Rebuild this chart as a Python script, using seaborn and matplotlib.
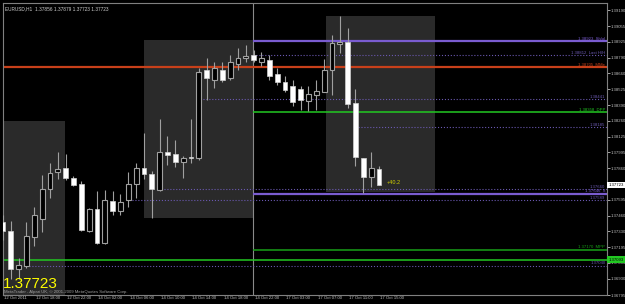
import numpy as np
import pandas as pd
import matplotlib
matplotlib.use("Agg")
import matplotlib.pyplot as plt
import matplotlib.transforms as mtransforms
import seaborn as sns

# ---------------- data ----------------
opens = [1.37408, 1.37333, 1.37013, 1.37039, 1.37282, 1.37433, 1.37685, 1.37828, 1.37862, 1.37778,
         1.37728, 1.37333, 1.37517, 1.37232, 1.37585, 1.37501, 1.37593, 1.37728, 1.37862, 1.37812,
         1.37677, 1.37996, 1.37979, 1.37912, 1.37954, 1.37946, 1.38686, 1.38602, 1.38686, 1.38619,
         1.38736, 1.38787, 1.38812, 1.38753, 1.38770, 1.38652, 1.38585, 1.38551, 1.38526, 1.38425,
         1.38476, 1.38501, 1.38686, 1.38904, 1.38921, 1.38408, 1.37946, 1.37786, 1.37856]
highs = [1.37467, 1.37417, 1.37106, 1.37408, 1.37534, 1.37803, 1.37904, 1.37996, 1.37979, 1.37795,
         1.37753, 1.37526, 1.37668, 1.37677, 1.37668, 1.37643, 1.37828, 1.37904, 1.38156, 1.37837,
         1.38273, 1.38131, 1.38097, 1.37962, 1.38273, 1.38703, 1.38787, 1.38753, 1.38753, 1.38812,
         1.38871, 1.38896, 1.38854, 1.38837, 1.38812, 1.38703, 1.38636, 1.38602, 1.38551, 1.38551,
         1.38602, 1.38778, 1.38980, 1.39140, 1.39039, 1.38526, 1.37946, 1.37996, 1.37879]
lows = [1.37257, 1.36929, 1.36929, 1.37022, 1.37206, 1.37324, 1.37610, 1.37769, 1.37761, 1.37711,
        1.37333, 1.37324, 1.37225, 1.37225, 1.37467, 1.37467, 1.37534, 1.37610, 1.37769, 1.37442,
        1.37670, 1.37887, 1.37870, 1.37778, 1.37904, 1.37929, 1.38434, 1.38535, 1.38585, 1.38602,
        1.38686, 1.38753, 1.38753, 1.38720, 1.38602, 1.38560, 1.38501, 1.38384, 1.38350, 1.38341,
        1.38350, 1.38501, 1.38476, 1.38829, 1.38366, 1.37879, 1.37652, 1.37703, 1.37723]
closes = [1.37333, 1.37013, 1.37047, 1.37291, 1.37467, 1.37685, 1.37820, 1.37853, 1.37778, 1.37719,
          1.37342, 1.37517, 1.37232, 1.37593, 1.37501, 1.37576, 1.37728, 1.37862, 1.37812, 1.37685,
          1.37996, 1.37971, 1.37912, 1.37946, 1.37950, 1.38669, 1.38619, 1.38703, 1.38602, 1.38753,
          1.38787, 1.38804, 1.38770, 1.38787, 1.38635, 1.38585, 1.38518, 1.38417, 1.38434, 1.38484,
          1.38509, 1.38686, 1.38913, 1.38921, 1.38400, 1.37954, 1.37786, 1.37862, 1.37723]

time_labels = ["12 Oct 2011", "12 Oct 18:00", "12 Oct 22:00", "14 Oct 02:00", "14 Oct 06:00",
               "14 Oct 10:00", "14 Oct 14:00", "14 Oct 18:00", "14 Oct 22:00", "17 Oct 03:00",
               "17 Oct 07:00", "17 Oct 11:00", "17 Oct 15:00"]
price_ticks = [1.39190, 1.39055, 1.38925, 1.38790, 1.38660, 1.38525, 1.38390, 1.38260, 1.38125,
               1.37995, 1.37860, 1.37595, 1.37460, 1.37330, 1.37195, 1.37065, 1.36930, 1.36795]

# level lines: value, start bar, colour, style, label
level_values = [1.38929, 1.38812, 1.38711, 1.38442, 1.38333, 1.38207, 1.37686, 1.37648, 1.37593,
                1.37177, 1.37093, 1.37039]
level_start = [31.9, 31.9, 0.0, 25.2, 31.9, 45.3, 20.2, 31.9, 16.1, 31.9, 0.0, 3.0]
level_labels = ["1.38923  Sh/ol", "1.38812  Last H/H", "1.38705  MMe", "1.38441", "1.38358  DPP",
                "1.38185", "1.37660", "1.37646  S", "1.37589", "1.37170  MPP", "", "1.37040"]
level_colors = ["#7a5cd0", "#6a58b0", "#c8401a", "#6a58b0", "#22c822", "#6a58b0", "#6a58b0",
                "#7a5cd0", "#6a58b0", "#18a018", "#22c822", "#6a58b0"]
level_styles = ["-", ":", "-", ":", "-", ":", ":", "-", ":", "-", "-", ":"]
level_widths = [1.6, 0.8, 1.6, 0.8, 1.1, 0.8, 0.8, 1.6, 0.8, 1.1, 1.1, 0.8]

# session boxes: start bar, end bar, low, high
box_x0 = [0.0, 18.0, 41.2]
box_x1 = [7.9, 31.9, 55.2]
box_lo = [1.36795, 1.37442, 1.37661]
box_hi = [1.38257, 1.38938, 1.39140]

df = pd.DataFrame({"open": opens, "high": highs, "low": lows, "close": closes})
df["bar"] = np.arange(len(df))

# ---------------- style ----------------
sns.set_theme(style="dark", rc={
    "figure.facecolor": "black", "axes.facecolor": "black",
    "axes.edgecolor": "#808080", "text.color": "#c0c0c0",
    "xtick.color": "#c0c0c0", "ytick.color": "#c0c0c0",
})
plt.rcParams["font.family"] = ["Liberation Sans", "DejaVu Sans"]

W, H = 625, 304
fig = plt.figure(figsize=(W / 100, H / 100), dpi=100)
ax = fig.add_axes([3 / W, 9 / H, 604 / W, 292 / H])
ax.set_facecolor("black")

ymin, ymax = 1.36795, 1.39249
x0, x1 = 0.172, 77.11
ax.set_xlim(x0, x1)
ax.set_ylim(ymin, ymax)

SMALL = 3.1

# session boxes
for a, b, lo, hi in zip(box_x0, box_x1, box_lo, box_hi):
    ax.fill_between([max(a, x0), b], lo, hi, color="#2a2a2a", lw=0, zorder=0)

# period separator
ax.axvline(31.9, color="#8a8a8a", lw=0.8, zorder=1)

# level lines with labels
for v, s, lab, c, ls, lw in zip(level_values, level_start, level_labels, level_colors,
                                level_styles, level_widths):
    ax.hlines(v, max(s, x0), x1, colors=c, linestyles=ls, lw=lw, zorder=2)
    if lab:
        ax.text(76.9, v + 0.00004, lab, color=c, fontsize=SMALL, ha="right", va="bottom", zorder=3)

# candles
bull = df["close"] >= df["open"]
ax.vlines(df["bar"], df["low"], df["high"], colors="#a0a0a0", lw=0.8, zorder=4)
body_lo = np.minimum(df["open"], df["close"])
body_h = np.maximum(np.abs(df["close"] - df["open"]), 0.00002)
ax.bar(df["bar"][~bull], body_h[~bull], bottom=body_lo[~bull], width=0.62,
       color="white", edgecolor="#d0d0d0", lw=0.5, zorder=5)
ax.bar(df["bar"][bull], body_h[bull], bottom=body_lo[bull], width=0.62,
       color="black", edgecolor="#a0a0a0", lw=0.8, zorder=5)

# axes / ticks
ax.yaxis.tick_right()
ax.set_yticks(price_ticks)
ax.set_yticklabels([f"{p:.5f}" for p in price_ticks], fontsize=SMALL)
ax.tick_params(axis="y", length=2.0, width=0.6, color="#c0c0c0", pad=0.4)
ax.set_xticks(np.arange(0, 49, 4))
ax.set_xticklabels(time_labels, fontsize=SMALL, ha="left", va="center")
ax.tick_params(axis="x", length=3.5, width=0.6, color="#c0c0c0", pad=-1.5)
offset = mtransforms.ScaledTranslation(1.2 / 100, 0, fig.dpi_scale_trans)
for lab in ax.get_xticklabels():
    lab.set_transform(lab.get_transform() + offset)
for sp in ax.spines.values():
    sp.set_color("#808080")
    sp.set_linewidth(0.8)
ax.grid(False)

# current price markers on axis
ax.text(1.002, 1.37723, "1.37723", transform=ax.get_yaxis_transform(),
        fontsize=SMALL, color="black", va="center", ha="left",
        bbox=dict(boxstyle="square,pad=0.25", fc="white", ec="none"))
ax.text(1.002, 1.37093, "1.37093", transform=ax.get_yaxis_transform(),
        fontsize=SMALL, color="black", va="center", ha="left",
        bbox=dict(boxstyle="square,pad=0.25", fc="#22c822", ec="none"))

# header and overlays
ax.text(0.003, 0.99, "EURUSD,H1  1.37856 1.37879 1.37723 1.37723", transform=ax.transAxes,
        fontsize=SMALL + 0.3, color="#d0d0d0", va="top", ha="left")
ax.text(49.0, 1.37738, "+40.2", fontsize=4.0, color="#d0d000", va="center", ha="left", zorder=6)
ax.text(0.0, 0.014, "1.37723", transform=ax.transAxes, fontsize=11,
        color="#ffff00", va="bottom", ha="left", zorder=7)
ax.text(0.002, 0.004, "MetaTrader - Alpari UK, \u00a9 2001-2009 MetaQuotes Software Corp.",
        transform=ax.transAxes, fontsize=SMALL, color="#a0a0a0", va="bottom", ha="left", zorder=8)

fig.savefig("out.png", dpi=100, facecolor="black")
